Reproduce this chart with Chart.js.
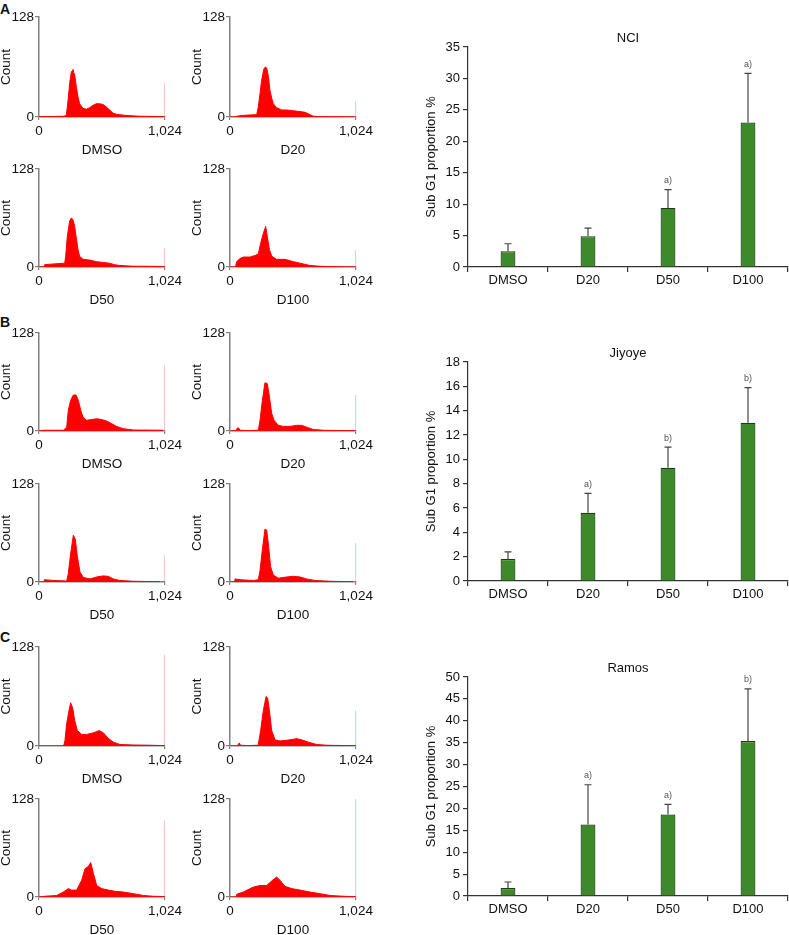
<!DOCTYPE html>
<html><head><meta charset="utf-8">
<script src="https://cdn.jsdelivr.net/npm/chart.js@4.4.0/dist/chart.umd.min.js"></script>
<style>
html,body{margin:0;padding:0;background:#fff;width:789px;height:935px;overflow:hidden;position:relative;font-family:"Liberation Sans",Arial,sans-serif}
canvas{position:absolute}
.lbl{position:absolute;font-weight:bold;font-size:14px;line-height:14px;color:#111}
</style></head><body>
<div class="lbl" style="left:0;top:2px">A</div>
<div class="lbl" style="left:0;top:315px">B</div>
<div class="lbl" style="left:0;top:630px">C</div>
<script>
// ---------- DATA ----------
const histRowLabels = [['DMSO', 'D20'], ['D50', 'D100']];
const histXTicks = [0, 1024];
const histXTickLabels = ['0', '1,024'];
const histYTicks = [0, 128];
// [channel, count]
const A_DMSO = [[0,0.5],[100,0.5],[200,1],[222,2],[236,21],[249,43],[263,58],[270,59],[276,61],[282,57],[290,54],[303,39],[317,26],[330,17],[358,11],[385,10],[412,12],[439,15],[466,17],[493,17],[520,16],[547,13],[574,9],[601,5],[629,3.5],[656,3],[710,2],[818,1],[1000,0.5],[1020,0.5]];
const A_D20 = [[0,0],[50,0],[54,1],[100,2],[150,2.5],[217,3],[230,13],[244,30],[257,47],[276,62],[290,64],[298,63],[312,52],[325,34],[339,24],[352,17],[379,12],[420,9],[461,9],[515,8],[569,7],[610,6],[650,3],[677,1],[731,0.5],[1020,0]];
const A_D50 = [[0,0],[40,0],[46,3],[120,4],[209,5],[217,14],[230,40],[249,60],[263,64],[276,62],[290,53],[303,38],[317,23],[330,14],[358,10],[412,9],[466,7],[520,6],[574,5],[615,3],[656,2],[764,1],[872,1],[1020,0.5]];
const A_D100 = [[0,0],[45,0],[54,7],[81,11],[108,13],[163,13],[203,15],[230,17],[249,31],[271,44],[290,53],[303,40],[320,23],[339,14],[379,10],[447,10],[515,7],[596,4],[650,2],[731,1],[813,0.5],[1020,0]];
const B_DMSO = [[0,0],[35,1],[198,1],[225,5],[238,27],[257,40],[279,47],[301,47],[320,40],[339,27],[360,17.5],[387,14],[428,15],[469,16],[509,15],[550,13],[591,9.6],[631,6],[685,3],[767,1.3],[1010,1]];
const B_D20 = [[0,0],[50,0.5],[60,4],[70,4],[81,1],[150,0.5],[230,1],[244,14],[263,40],[284,63],[303,62],[320,45],[339,23],[358,14],[393,7.4],[433,6],[488,6],[542,7.4],[582,7.4],[623,5],[677,2],[758,1],[900,0.5],[1020,0.3]];
const B_D50 = [[0,0],[40,0],[43,3],[120,2],[225,1.3],[238,11],[257,37],[279,61],[295,56],[312,33],[333,13],[360,6],[414,4],[469,6.6],[523,8],[563,7.4],[604,4],[658,2],[767,1],[983,0.3]];
const B_D100 = [[0,0],[38,0],[41,4],[81,3],[190,2],[230,3],[244,15],[263,42],[284,69],[298,68],[314,46],[330,20],[352,9],[393,5],[461,6.6],[515,7.4],[569,6.6],[623,4],[691,2],[813,1],[1000,0.3]];
const C_DMSO = [[0,0],[200,0],[211,7],[225,29],[244,46],[257,56],[274,49],[290,33],[312,20],[347,15],[387,15],[442,17],[490,20],[523,17],[563,10],[604,5],[658,2],[767,1.3],[902,1],[1020,0.5]];
const C_D20 = [[0,0],[60,0],[70,3],[76,4],[85,1],[150,0.5],[225,1],[230,2],[249,20],[271,46],[293,64],[306,62],[320,46],[339,20],[366,8],[406,6.5],[461,7.4],[542,9.5],[582,8],[637,5],[704,2],[786,1],[1020,0.3]];
const C_D50 = [[0,0],[49,1],[144,2],[198,6.5],[238,11],[265,9],[306,9],[347,22],[374,37],[401,40],[420,45],[442,31],[469,15],[509,11],[563,9],[618,7.4],[685,6.5],[767,4.4],[848,2],[929,1],[1020,0.5]];
const C_D100 = [[0,0],[50,0],[54,3.5],[108,6.5],[190,13],[244,15],[298,15],[339,21],[379,26],[406,22],[447,14],[501,11],[569,9],[650,6.5],[731,4.4],[813,2],[921,1],[1002,0.5],[1020,0.3]];
// height of the last-channel pile-up line, per panel (DMSO, D20, D50, D100)
const spikeA = [44, 20, 25, 22];
const spikeB = [86, 47, 35, 51];
const spikeC = [118, 46, 100, 128];

const barCategories = ['DMSO', 'D20', 'D50', 'D100'];
const nciMeans = [2.5, 4.9, 9.4, 23.0];
const nciErrors = [1.2, 1.3, 2.9, 7.8];
const nciMarks = ['', '', 'a)', 'a)'];
const jiyoyeMeans = [1.8, 5.6, 9.3, 13.0];
const jiyoyeErrors = [0.6, 1.6, 1.7, 2.9];
const jiyoyeMarks = ['', 'a)', 'b)', 'b)'];
const ramosMeans = [1.8, 16.3, 18.6, 35.4];
const ramosErrors = [1.4, 9.1, 2.3, 11.9];
const ramosMarks = ['', 'a)', 'a)', 'b)'];

// ---------- DRAWING ----------
const FAM = '"Liberation Sans", Arial, sans-serif';
Chart.defaults.font.family = FAM;

function makeCanvas(L, T, W, H) {
  const c = document.createElement('canvas');
  c.width = W; c.height = H;
  c.style.left = L + 'px'; c.style.top = T + 'px';
  c.style.width = W + 'px'; c.style.height = H + 'px';
  document.body.appendChild(c);
  return c;
}

function makeHist(rect, pts, spike, label) {
  const padL = 39, padT = 12, padR = 24, padB = 40;
  const [l, t, r, b] = rect;
  const c = makeCanvas(l - padL, t - padT, r - l + padL + padR, b - t + padT + padB);
  const fs = 13.5;
  new Chart(c, {
    type: 'line',
    data: { datasets: [
      { data: pts.map(p => ({x: p[0], y: p[1]})), fill: 'origin', backgroundColor: '#ff0000',
        borderColor: '#ff0000', borderWidth: 1, pointRadius: 0, tension: 0 },
      { data: [{x: 1023, y: 0}, {x: 1023, y: spike}], borderColor: 'rgba(225,80,80,0.5)',
        borderWidth: 1, pointRadius: 0, fill: false }
    ]},
    options: {
      responsive: false, animation: false, devicePixelRatio: 1,
      layout: { padding: { top: padT, right: padR, left: 0, bottom: 0 } },
      plugins: { legend: { display: false }, tooltip: { enabled: false } },
      scales: {
        x: {
          type: 'linear', min: 0, max: 1024,
          afterBuildTicks: s => { s.ticks = histXTicks.map(v => ({value: v})); },
          ticks: { callback: v => histXTickLabels[histXTicks.indexOf(v)], font: {size: fs}, color: '#111',
                   padding: 3, maxRotation: 0, autoSkip: false },
          grid: { display: true, drawOnChartArea: false, tickLength: 3, color: '#808080', lineWidth: 1.2 },
          border: { color: '#808080', width: 1.5 },
          title: { display: true, text: label, font: {size: fs, lineHeight: 1}, color: '#111', padding: 0 },
          afterFit: s => { s.height = padB; }
        },
        y: {
          min: 0, max: 128,
          afterBuildTicks: s => { s.ticks = histYTicks.map(v => ({value: v})); },
          ticks: { font: {size: fs}, color: '#111', padding: 1 },
          grid: { display: true, drawOnChartArea: false, tickLength: 4, color: '#808080', lineWidth: 1.2 },
          border: { color: '#808080', width: 1.5 },
          title: { display: true, text: 'Count', font: {size: fs, lineHeight: 1}, color: '#111', padding: 0 },
          afterFit: s => { s.width = padL; }
        }
      }
    }
  });
}

const errorBarPlugin = {
  id: 'errbars',
  afterDatasetsDraw(chart) {
    const ctx = chart.ctx;
    const ds = chart.data.datasets[0];
    const meta = chart.getDatasetMeta(0);
    const ys = chart.scales.y;
    meta.data.forEach((bar, i) => {
      const x = bar.x;
      const top = ys.getPixelForValue(ds.data[i]);
      const yErr = ys.getPixelForValue(ds.data[i] + ds.errors[i]);
      ctx.save();
      ctx.strokeStyle = '#444'; ctx.lineWidth = 1.2;
      ctx.beginPath();
      ctx.moveTo(x, top); ctx.lineTo(x, yErr);
      ctx.moveTo(x - 3.5, yErr); ctx.lineTo(x + 3.5, yErr);
      ctx.stroke();
      if (ds.marks[i]) {
        ctx.fillStyle = '#555'; ctx.font = '9px ' + FAM;
        ctx.textAlign = 'center'; ctx.textBaseline = 'middle';
        ctx.fillText(ds.marks[i], x, yErr - 9);
      }
      ctx.restore();
    });
  }
};

function makeBar(rect, title, means, errs, marks, yMax, yStep) {
  const padL = 50, padT = 4, titleH = 16, padR = 2, padB = 20;
  const [l, t, r, b] = rect;
  const c = makeCanvas(l - padL, t - padT - titleH, r - l + padL + padR, b - t + padT + titleH + padB);
  new Chart(c, {
    type: 'bar',
    data: { labels: barCategories, datasets: [{
      data: means, errors: errs, marks: marks,
      backgroundColor: '#3c8a29', borderColor: '#1f3d14', borderWidth: 1.2,
      barPercentage: 0.185, categoryPercentage: 1
    }]},
    plugins: [errorBarPlugin],
    options: {
      responsive: false, animation: false, devicePixelRatio: 1,
      layout: { padding: { top: padT, right: padR, left: 0, bottom: 0 } },
      plugins: { legend: { display: false }, tooltip: { enabled: false } },
      scales: {
        x: {
          type: 'category', offset: true,
          ticks: { font: {size: 13}, color: '#111', padding: 1 },
          grid: { display: true, offset: true, drawOnChartArea: false, tickLength: 5, color: '#333', lineWidth: 1.2 },
          border: { color: '#333', width: 1.2 },
          afterFit: s => { s.height = padB; }
        },
        x2: {
          type: 'category', position: 'top',
          ticks: { display: false }, grid: { display: false }, border: { display: false },
          title: { display: true, text: title, font: {size: 13}, color: '#111', padding: 0 },
          afterFit: s => { s.height = titleH; }
        },
        y: {
          min: 0, max: yMax,
          ticks: { stepSize: yStep, font: {size: 13}, color: '#111', padding: 3 },
          grid: { display: true, drawOnChartArea: false, tickLength: 5, color: '#333', lineWidth: 1.2 },
          border: { color: '#333', width: 1.2 },
          title: { display: true, text: 'Sub G1 proportion %', font: {size: 13, lineHeight: 1}, color: '#111', padding: 7 },
          afterFit: s => { s.width = padL; }
        }
      }
    }
  });
}

const colLeft = [39, 230];
const panels = [
  { rows: [[17, 117], [169, 267]], data: [A_DMSO, A_D20, A_D50, A_D100], spikes: spikeA },
  { rows: [[333, 431], [484, 582]], data: [B_DMSO, B_D20, B_D50, B_D100], spikes: spikeB },
  { rows: [[647, 746], [799, 897]], data: [C_DMSO, C_D20, C_D50, C_D100], spikes: spikeC }
];
panels.forEach(p => {
  p.rows.forEach((rw, ri) => {
    colLeft.forEach((cl, ci) => {
      const k = ri * 2 + ci;
      makeHist([cl, rw[0], cl + 126, rw[1]], p.data[k], p.spikes[k], histRowLabels[ri][ci]);
    });
  });
});

makeBar([468, 47, 788, 267], 'NCI', nciMeans, nciErrors, nciMarks, 35, 5);
makeBar([468, 362, 788, 581], 'Jiyoye', jiyoyeMeans, jiyoyeErrors, jiyoyeMarks, 18, 2);
makeBar([468, 677, 788, 896], 'Ramos', ramosMeans, ramosErrors, ramosMarks, 50, 5);
</script>
</body></html>
